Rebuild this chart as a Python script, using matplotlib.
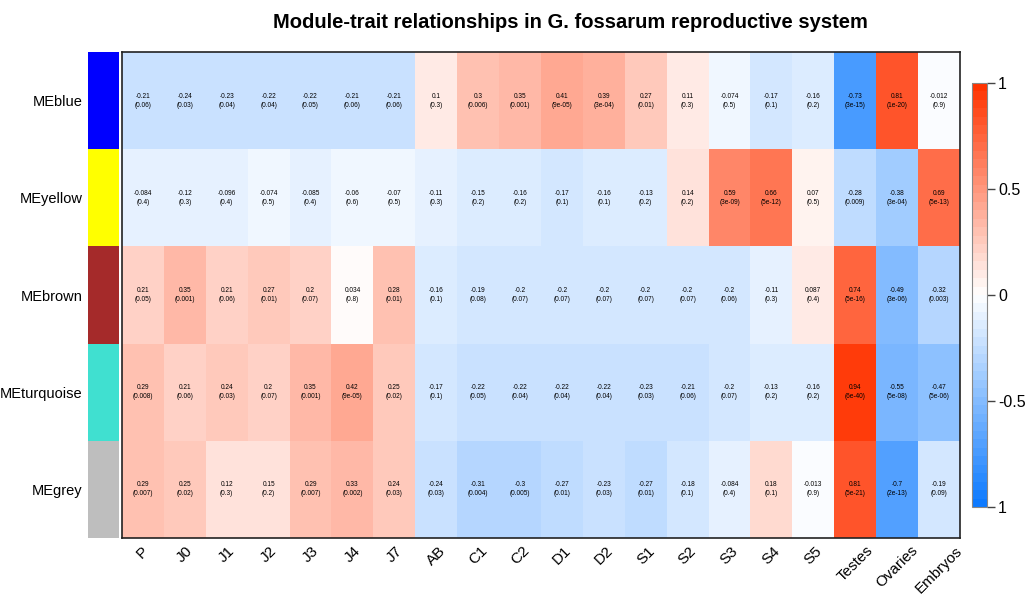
import matplotlib
matplotlib.use('Agg')
import matplotlib.pyplot as plt
from matplotlib.colors import LinearSegmentedColormap
import numpy as np

plt.rcParams['font.family'] = ['Liberation Sans', 'DejaVu Sans']

# module eigengenes (rows) and their colours
modules = ['MEblue', 'MEyellow', 'MEbrown', 'MEturquoise', 'MEgrey']
module_colors = ['#0000ff', '#ffff00', '#a52a2a', '#40e0d0', '#bebebe']

# traits (columns)
traits = ['P', 'J0', 'J1', 'J2', 'J3', 'J4', 'J7', 'AB', 'C1', 'C2',
          'D1', 'D2', 'S1', 'S2', 'S3', 'S4', 'S5', 'Testes', 'Ovaries', 'Embryos']

# correlations per module
cor_blue = [-0.21, -0.24, -0.23, -0.22, -0.22, -0.21, -0.21, 0.1, 0.3, 0.35,
            0.41, 0.39, 0.27, 0.11, -0.074, -0.17, -0.16, -0.73, 0.81, -0.012]
cor_yellow = [-0.084, -0.12, -0.096, -0.074, -0.085, -0.06, -0.07, -0.11, -0.15, -0.16,
              -0.17, -0.16, -0.13, 0.14, 0.59, 0.66, 0.07, -0.28, -0.38, 0.69]
cor_brown = [0.21, 0.35, 0.21, 0.27, 0.2, 0.034, 0.28, -0.16, -0.19, -0.2,
             -0.2, -0.2, -0.2, -0.2, -0.2, -0.11, 0.087, 0.74, -0.49, -0.32]
cor_turquoise = [0.29, 0.21, 0.24, 0.2, 0.35, 0.42, 0.25, -0.17, -0.22, -0.22,
                 -0.22, -0.22, -0.23, -0.21, -0.2, -0.13, -0.16, 0.94, -0.55, -0.47]
cor_grey = [0.29, 0.25, 0.12, 0.15, 0.29, 0.33, 0.24, -0.24, -0.31, -0.3,
            -0.27, -0.23, -0.27, -0.18, -0.084, 0.18, -0.013, 0.81, -0.7, -0.19]

# p-values as printed in the cells
p_blue = ['0.06', '0.03', '0.04', '0.04', '0.05', '0.06', '0.06', '0.3', '0.006', '0.001',
          '9e-05', '3e-04', '0.01', '0.3', '0.5', '0.1', '0.2', '3e-15', '1e-20', '0.9']
p_yellow = ['0.4', '0.3', '0.4', '0.5', '0.4', '0.6', '0.5', '0.3', '0.2', '0.2',
            '0.1', '0.1', '0.2', '0.2', '3e-09', '5e-12', '0.5', '0.009', '3e-04', '5e-13']
p_brown = ['0.05', '0.001', '0.06', '0.01', '0.07', '0.8', '0.01', '0.1', '0.08', '0.07',
           '0.07', '0.07', '0.07', '0.07', '0.06', '0.3', '0.4', '5e-16', '3e-06', '0.003']
p_turquoise = ['0.008', '0.06', '0.03', '0.07', '0.001', '9e-05', '0.02', '0.1', '0.05', '0.04',
               '0.04', '0.04', '0.03', '0.06', '0.07', '0.2', '0.2', '6e-40', '5e-08', '5e-06']
p_grey = ['0.007', '0.02', '0.3', '0.2', '0.007', '0.002', '0.03', '0.03', '0.004', '0.005',
          '0.01', '0.03', '0.01', '0.1', '0.4', '0.1', '0.9', '5e-21', '2e-13', '0.09']

cor = np.array([cor_blue, cor_yellow, cor_brown, cor_turquoise, cor_grey])
pvals = [p_blue, p_yellow, p_brown, p_turquoise, p_grey]

# blue-white-red palette like WGCNA
cmap = LinearSegmentedColormap.from_list(
    'bwr_wgcna', [(0.05, 0.48, 1.0), (1, 1, 1), (1.0, 0.2, 0.0)], N=50)

fig = plt.figure(figsize=(10.31, 6), dpi=100)

# heatmap
ax = fig.add_axes([0.1183, 0.1033, 0.8128, 0.81])
mesh = ax.pcolormesh(cor, cmap=cmap, vmin=-1, vmax=1)
ax.set_xlim(0, len(traits))
ax.set_ylim(len(modules), 0)
for i in range(len(modules)):
    for j in range(len(traits)):
        ax.text(j + 0.5, i + 0.5, f'{cor[i, j]:.2g}\n({pvals[i][j]})',
                ha='center', va='center', fontsize=4.7, linespacing=1.4)
ax.set_xticks(np.arange(len(traits)) + 0.5)
ax.set_xticklabels(traits, rotation=45, ha='center', va='top', fontsize=11)
ax.set_yticks([])
ax.tick_params(axis='x', length=0, pad=4)
for s in ax.spines.values():
    s.set_color('#222222')
    s.set_linewidth(1.2)

# module colour bar on the left
ax_side = fig.add_axes([0.0854, 0.1033, 0.0300, 0.81])
ax_side.barh(np.arange(len(modules)), 1, height=1, left=0, color=module_colors)
ax_side.set_xlim(0, 1)
ax_side.set_ylim(len(modules) - 0.5, -0.5)
ax_side.set_xticks([])
ax_side.set_yticks(np.arange(len(modules)))
ax_side.set_yticklabels(modules, fontsize=10.5)
ax_side.tick_params(axis='y', length=0, pad=4)
for s in ax_side.spines.values():
    s.set_visible(False)

# colour scale on the right
cax = fig.add_axes([0.9428, 0.155, 0.0146, 0.7067])
cb = fig.colorbar(mesh, cax=cax, ticks=[1, 0.5, 0, -0.5, -1])
cb.ax.set_yticklabels(['1', '0.5', '0', '-0.5', '1'], fontsize=11.5)
cb.ax.tick_params(length=6, width=1, color='#444444', pad=2)
cb.outline.set_edgecolor('#888888')

fig.text(0.553, 0.963, 'Module-trait relationships in G. fossarum reproductive system',
         ha='center', va='center', fontsize=14.5, fontweight='bold')

fig.savefig('out.png', dpi=100)
